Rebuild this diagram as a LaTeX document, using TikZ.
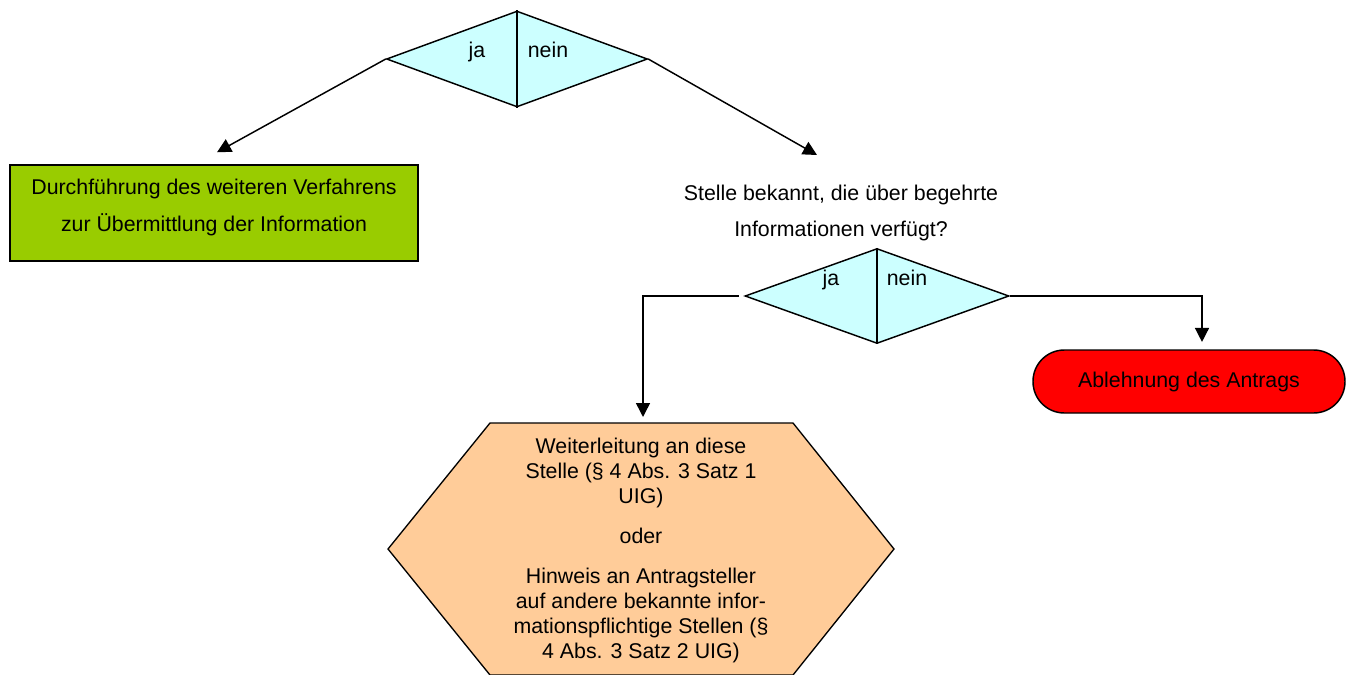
\documentclass[tikz,border=0pt]{standalone}
\usepackage{fontspec}
\setmainfont{Liberation Sans}
\usepackage{tikz}
\usetikzlibrary{shapes.geometric,arrows.meta}
\definecolor{cyanfill}{HTML}{CCFFFF}
\definecolor{greenfill}{HTML}{99CC00}
\definecolor{redfill}{HTML}{FF0000}
\definecolor{peachfill}{HTML}{FFCC99}

\begin{document}
\begin{tikzpicture}
[
x=0.75pt,y=-0.75pt,
line width=1.1pt,
font=\fontsize{16}{19}\selectfont,
arr/.style={-{Triangle[length=10.5pt,width=10.5pt]}},
decision/.style={diamond,draw,fill=cyanfill,inner sep=0pt},
divider/.style={line width=2.2pt},
answer/.style={anchor=base}]
\useasboundingbox (0,0) rectangle (1354,675);

% first question
\node[decision,minimum width=195.75pt,minimum height=72pt] (frage1) at (517,59) {};
\draw[divider] (frage1.north) -- (frage1.south);
\node[answer] (ja1) at (477,57) {ja};
\node[answer] (nein1) at (548,57) {nein};

\node[draw,fill=greenfill,minimum width=306pt,minimum height=72pt,align=center,
	text depth=11pt,font=\fontsize{16}{27.75}\selectfont] (weiter) at (214,213)
	{Durchführung des weiteren Verfahrens\\zur Übermittlung der Information};

\node[align=center,font=\fontsize{16}{27}\selectfont] (frage2text) at (841,213)
	{Stelle bekannt, die über begehrte\\Informationen verfügt?};
\coordinate (frage2in) at (817,155);

% second question
\node[decision,minimum width=198pt,minimum height=71.25pt] (frage2) at (877,296) {};
\draw[divider] (frage2.north) -- (frage2.south);
\node[answer] (ja2) at (831,285) {ja};
\node[answer] (nein2) at (907,285) {nein};

\node[draw,fill=redfill,rounded corners=23.5pt,minimum width=234pt,minimum height=47.25pt] (ablehnung) at (1189,381.5)
	{Ablehnung des Antrags};

% hexagon
\draw[fill=peachfill,line width=1pt] (490,423) -- (793,423) -- (894,549) -- (793,675)
	-- (490,675) -- (388,549) -- cycle;
\coordinate (hexoben) at (643,423);
\node[align=center,font=\fontsize{16}{18.75}\selectfont] (verweis) at (641,550)
	{Weiterleitung an diese\\Stelle (§ 4 Abs. 3 Satz 1\\UIG)\\[11.25pt]
	oder\\[11.25pt]
	Hinweis an Antragsteller\\auf andere bekannte infor-\\mationspflichtige Stellen (§\\4 Abs. 3 Satz 2 UIG)};

% connectors
\draw[arr] (frage1.west) -- ([xshift=2.25pt,yshift=9pt]weiter.north);
\draw[arr] (frage1.east) -- (frage2in);
\draw[arr,shorten <=4pt] (frage2.west) -| ([yshift=4.5pt]hexoben);
\draw[arr] (frage2.east) -| ([xshift=9.75pt,yshift=5.5pt]ablehnung.north);
\end{tikzpicture}
\end{document}
